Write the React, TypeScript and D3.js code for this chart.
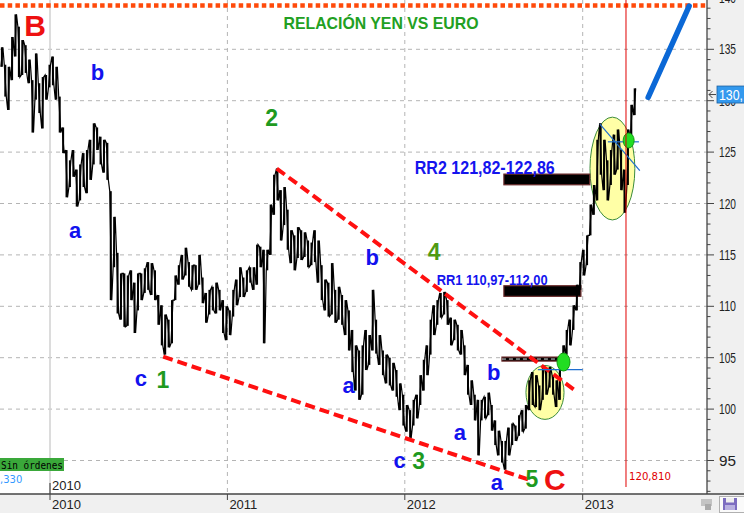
import { useMemo } from "react";
import * as d3 from "d3";

const WIDTH = 744;
const HEIGHT = 513;
const AXIS_X = 707; // right price axis
const AXIS_Y = 494; // bottom time axis

const NARROW = '"Liberation Sans Narrow", "Arial Narrow", "Liberation Sans", Arial, sans-serif';

// weekly high / low, first week starts 24 Sep 2009
const FIRST_WEEK = new Date(2009, 8, 24);
const weekHigh = [
  135.2, 133.5, 133.3, 136.2, 138.4, 137.2, 135.9, 135.4, 134.0, 132.0,
  134.6, 131.7, 132.3, 132.5, 133.5, 134.3, 133.3, 130.4, 127.4, 125.2,
  124.2, 125.2, 123.3, 123.8, 124.9, 125.2, 126.2, 127.8, 127.4, 126.5,
  126.2, 125.9, 121.2, 118.7, 115.2, 113.2, 113.2, 113.0, 113.5, 112.3,
  113.2, 113.2, 113.7, 114.3, 114.2, 113.5, 111.1, 110.1, 109.2, 108.7,
  110.6, 113.0, 114.0, 115.0, 115.7, 114.3, 114.0, 114.0, 115.0, 112.8,
  111.3, 111.6, 111.9, 112.3, 111.6, 110.6, 110.0, 109.6, 111.6, 112.6,
  113.8, 112.8, 113.5, 113.8, 113.8, 116.0, 115.8, 115.5, 115.5, 119.9,
  122.8, 123.4, 121.3, 121.6, 119.4, 117.4, 116.9, 117.7, 117.4, 117.2,
  116.4, 116.2, 117.4, 116.4, 114.0, 112.6, 112.3, 114.2, 111.6, 111.9,
  111.1, 110.6, 109.6, 107.7, 106.2, 105.7, 106.2, 107.7, 107.2, 111.6,
  108.7, 107.2, 105.7, 105.3, 105.0, 104.5, 103.8, 102.5, 101.4, 100.4,
  99.9, 100.9, 101.4, 103.3, 104.8, 106.2, 108.7, 110.1, 110.6, 111.3,
  111.4, 110.6, 108.9, 108.7, 108.2, 107.7, 106.2, 104.3, 102.8, 101.4,
  100.9, 100.9, 101.2, 101.6, 100.4, 98.9, 97.9, 96.9, 96.9, 98.2,
  98.6, 98.4, 99.4, 99.9, 100.4, 102.8, 103.6, 103.3, 102.3, 104.0,
  103.8, 104.1, 103.3, 102.8, 104.8, 106.2, 107.7, 108.7, 110.1, 112.1,
  114.3, 115.5, 116.9, 119.9, 121.8, 126.2, 127.8, 126.2, 124.2, 125.2,
  126.7, 127.2, 125.2, 123.3, 127.2, 129.6, 131.2,
];
const weekLow = [
  133.3, 130.4, 129.1, 132.0, 134.3, 132.3, 132.5, 132.7, 131.7, 126.9,
  130.1, 128.8, 127.3, 130.1, 131.3, 131.5, 130.1, 126.9, 124.9, 120.6,
  121.6, 122.6, 119.7, 120.3, 121.6, 121.0, 122.3, 123.8, 125.2, 123.8,
  123.0, 122.3, 110.6, 113.8, 109.3, 108.7, 108.0, 108.1, 110.6, 107.4,
  109.6, 110.6, 111.3, 111.6, 111.1, 110.6, 108.2, 106.2, 105.3, 106.0,
  106.4, 110.6, 112.1, 112.6, 113.0, 111.9, 111.6, 111.6, 112.1, 110.3,
  108.4, 109.2, 109.6, 109.3, 109.6, 107.4, 106.7, 107.2, 109.0, 110.1,
  110.9, 110.9, 111.4, 112.3, 111.6, 112.1, 113.8, 106.4, 113.5, 115.0,
  118.9, 120.3, 116.4, 117.9, 115.5, 114.2, 113.5, 114.7, 114.5, 114.8,
  113.8, 114.0, 114.3, 112.3, 110.6, 109.6, 109.0, 109.2, 108.4, 108.7,
  108.2, 107.2, 105.7, 103.6, 101.8, 100.9, 101.4, 103.8, 104.3, 105.7,
  105.4, 104.3, 103.3, 102.5, 102.3, 101.8, 101.2, 99.9, 98.4, 97.8,
  97.2, 98.4, 99.1, 100.4, 101.8, 103.3, 105.3, 107.2, 108.2, 108.9,
  109.2, 108.2, 106.2, 106.7, 105.7, 105.3, 103.3, 101.4, 100.4, 98.9,
  95.5, 98.9, 99.1, 99.4, 97.9, 96.5, 95.5, 94.8, 94.1, 95.5,
  96.5, 96.9, 97.4, 97.8, 98.1, 99.9, 100.4, 100.2, 99.9, 100.9,
  101.4, 102.1, 101.4, 100.2, 100.9, 103.8, 105.3, 106.2, 107.7, 109.6,
  111.6, 113.0, 114.0, 116.9, 118.9, 120.3, 122.8, 121.3, 120.3, 121.8,
  122.8, 123.3, 121.3, 119.1, 121.8, 126.2, 128.6,
];

const yearTicks = [2010, 2011, 2012, 2013];
const priceTicks = [95, 100, 105, 110, 115, 120, 125, 130, 135, 140];
const minorTicks = d3.range(91, 141).filter((v) => v % 5 !== 0);

const LAST_PRICE = 130.6;
const LAST_LABEL = "130,";
const MARKER_YEAR = 2013.244;
const MARKER_LABEL = "120,810";
const TOP_LEVEL = 139.25;

// resistance zones
const rrLabels = ["RR2 121,82-122,86", "RR1 110,97-112,00"];
const rrLow = [121.82, 110.97];
const rrHigh = [122.86, 112.0];
const rrFrom = [2012.557, 2012.557];
const rrTo = [2013.04, 2012.99];
const rrTextFrom = [2012.056, 2012.179];
const rrTextSize = [18, 14.5];
const rrTextWidth = [140, 111];

// wedge lines [year, price]
const wedgeUpper: [number, number][] = [[2011.278, 123.4], [2012.966, 101.7]];
const wedgeLower: [number, number][] = [[2010.638, 105.1], [2012.703, 93.1]];
const projection: [number, number][] = [[2013.369, 130.33], [2013.6, 139.2]];

// yellow zones: from, to, low, high
const zoneFrom = [2012.681, 2013.041];
const zoneTo = [2012.895, 2013.294];
const zoneLow = [99.0, 118.4];
const zoneHigh = [104.25, 128.4];

const dotYear = [2012.892, 2013.259];
const dotPrice = [104.58, 126.13];

const blueLines: [number, number][][] = [
  [[2012.748, 103.84], [2013.0, 103.84]],
  [[2013.142, 126.0], [2013.317, 126.0]],
  [[2013.097, 127.73], [2013.322, 123.2]],
];

const waveText = ["B", "b", "a", "2", "b", "4", "c", "1", "a", "c", "3", "a", "b", "a", "5", "C"];
const waveYear = [2009.916, 2010.267, 2010.141, 2011.25, 2011.816, 2012.165, 2010.512, 2010.636, 2011.684, 2011.971, 2012.078, 2012.309, 2012.5, 2012.517, 2012.714, 2012.844];
const wavePrice = [136.29, 132.0, 116.64, 127.54, 114.02, 114.5, 102.25, 102.06, 101.6, 94.3, 94.2, 97.0, 102.8, 92.1, 92.4, 92.1];

const fy = (t: number) => {
  const y = Math.floor(t);
  const a = new Date(y, 0, 1).getTime();
  const b = new Date(y + 1, 0, 1).getTime();
  return new Date(a + (t - y) * (b - a));
};

const waveStyle = (t: string) => {
  if (t === "B" || t === "C") return { fill: "#ee1111", size: 30 };
  if (/[0-9]/.test(t)) return { fill: t === "4" ? "#4f9a12" : "#1f9a1f", size: 23 };
  return { fill: "#1212ee", size: 22 };
};

export default function App() {
  const xScale = useMemo(
    () => d3.scaleTime().domain([new Date(2010, 0, 1), new Date(2013, 0, 1)]).range([50, 582.7]),
    []
  );
  const yScale = useMemo(() => d3.scaleLinear().domain([95, 135]).range([460.5, 49.3]), []);

  const X = (t: number) => xScale(fy(t));
  const line = d3
    .line<[number, number]>()
    .x((d) => X(d[0]))
    .y((d) => yScale(d[1]));

  // bars plus a trace joining them, entering each week at the extreme nearest the last one
  const weekX = weekHigh.map((_, i) => xScale(d3.timeWeek.offset(FIRST_WEEK, i)));
  const bars = weekHigh.map((hi, i) => {
    const y = yScale(hi);
    return <rect key={i} x={weekX[i] - 1} y={y} width={2} height={Math.max(1, yScale(weekLow[i]) - y)} fill="#000" />;
  });
  let trace = "";
  let prev = weekLow[0];
  weekHigh.forEach((hi, i) => {
    const lo = weekLow[i];
    const upFirst = Math.abs(prev - hi) < Math.abs(prev - lo);
    const a = upFirst ? hi : lo;
    const b = upFirst ? lo : hi;
    trace += `${i === 0 ? "M" : "L"}${weekX[i] - 1},${yScale(a)}L${weekX[i] + 1},${yScale(b)}`;
    prev = b;
  });

  return (
    <svg width={WIDTH} height={HEIGHT} style={{ position: "absolute", left: 0, top: 0, background: "#fff" }}>
      <defs>
        <clipPath id="plot">
          <rect x={0} y={0} width={AXIS_X} height={AXIS_Y} />
        </clipPath>
      </defs>

      {/* axis panels */}
      <rect x={AXIS_X} y={0} width={WIDTH - AXIS_X} height={HEIGHT} fill="#f0f0f0" />
      <rect x={0} y={AXIS_Y} width={WIDTH} height={HEIGHT - AXIS_Y} fill="#f0f0f0" />

      <g clipPath="url(#plot)">
        {/* grid */}
        {priceTicks.map((v) => (
          <line key={v} x1={0} x2={AXIS_X} y1={yScale(v)} y2={yScale(v)} stroke="#b4b4b4" strokeDasharray="4 4" />
        ))}
        {yearTicks.map((yr) => (
          <line
            key={yr}
            x1={xScale(new Date(yr, 0, 1))}
            x2={xScale(new Date(yr, 0, 1))}
            y1={0}
            y2={AXIS_Y}
            stroke={yr === 2010 ? "#d0d0d0" : "#b4b4b4"}
            strokeWidth={yr === 2010 ? 1.5 : 1}
            strokeDasharray={yr === 2010 ? undefined : "4 4"}
          />
        ))}

        {/* yellow zones */}
        {zoneFrom.map((f, i) => {
          const x0 = X(f);
          const x1 = X(zoneTo[i]);
          const y0 = yScale(zoneHigh[i]);
          const y1 = yScale(zoneLow[i]);
          return (
            <ellipse key={i} cx={(x0 + x1) / 2} cy={(y0 + y1) / 2} rx={(x1 - x0) / 2} ry={(y1 - y0) / 2}
              fill="#ffffa6" stroke="#3c8c3c" strokeWidth={1} />
          );
        })}

        {/* resistance bars */}
        {rrLow.map((lo, i) => (
          <rect key={i} x={X(rrFrom[i])} y={yScale(rrHigh[i])} width={X(rrTo[i]) - X(rrFrom[i])}
            height={yScale(lo) - yScale(rrHigh[i])} fill="#000" stroke="#6a2a2a" strokeWidth={1.2} />
        ))}
        <rect x={X(2012.546)} y={yScale(105.06)} width={X(2012.884) - X(2012.546)} height={yScale(104.67) - yScale(105.06)}
          fill="#000" stroke="#6a2a2a" strokeWidth={1.2} />
        <line x1={X(2012.546)} x2={X(2012.884)} y1={yScale(104.87)} y2={yScale(104.87)} stroke="#ddd" strokeDasharray="4 3" />

        {/* price */}
        <path d={trace} stroke="#000" strokeWidth={1.2} fill="none" />
        {bars}

        {/* top level */}
        <line x1={0} x2={AXIS_X} y1={yScale(TOP_LEVEL)} y2={yScale(TOP_LEVEL)} stroke="#ff4a0a" strokeWidth={4.5} strokeDasharray="4.5 3.2" />

        {/* wedge */}
        <path d={line(wedgeUpper) ?? ""} stroke="#ff1010" strokeWidth={4} strokeDasharray="10 5" fill="none" />
        <path d={line(wedgeLower) ?? ""} stroke="#ff1010" strokeWidth={4} strokeDasharray="10 5" fill="none" />

        {/* blue helper lines */}
        {blueLines.map((l, i) => (
          <path key={i} d={line(l) ?? ""} stroke="#1f6fd0" strokeWidth={1.2} fill="none" />
        ))}

        {/* green dots */}
        {dotYear.map((t, i) => (
          <ellipse key={i} cx={X(t)} cy={yScale(dotPrice[i])} rx={i === 0 ? 6.5 : 5.5} ry={i === 0 ? 9 : 7.5}
            fill="#22dd22" stroke="#139a13" strokeWidth={1} />
        ))}

        {/* projection */}
        <path d={line(projection) ?? ""} stroke="#0b68d6" strokeWidth={5.5} strokeLinecap="round" fill="none" />

        {/* marker */}
        <line x1={X(MARKER_YEAR)} x2={X(MARKER_YEAR)} y1={0} y2={487} stroke="#e00000" strokeWidth={1} />
        <text x={X(MARKER_YEAR) + 3} y={480} fontFamily="DejaVu Sans, sans-serif" fontSize={10.5} fill="#e00000"
          textLength={42} lengthAdjust="spacingAndGlyphs">
          {MARKER_LABEL}
        </text>

        {/* texts */}
        <text x={381} y={29} textAnchor="middle" fontFamily={NARROW} fontWeight="bold" fontSize={17} fill="#22a022"
          textLength={195} lengthAdjust="spacingAndGlyphs">
          RELACIÓN YEN VS EURO
        </text>
        {rrLabels.map((s, i) => (
          <text key={s} x={X(rrTextFrom[i])} y={yScale(rrHigh[i]) - 0.5} fontFamily={NARROW} fontWeight="bold"
            fontSize={rrTextSize[i]} fill="#1414ee" textLength={rrTextWidth[i]} lengthAdjust="spacingAndGlyphs">
            {s}
          </text>
        ))}
        {waveText.map((t, i) => {
          const st = waveStyle(t);
          return (
            <text key={i} x={X(waveYear[i])} y={yScale(wavePrice[i])} textAnchor="middle" fontFamily={NARROW}
              fontWeight="bold" fontSize={st.size} fill={st.fill}>
              {t}
            </text>
          );
        })}

        {/* inner year label */}
        <line x1={50} x2={50} y1={483} y2={AXIS_Y} stroke="#333" />
        <text x={52} y={490} fontFamily={NARROW} fontSize={13} fill="#222">2010</text>

        {/* orders box */}
        <rect x={0} y={458} width={64} height={13} fill="#3aa83a" />
        <text x={1} y={468.5} fontFamily="DejaVu Sans Mono, monospace" fontSize={10.5} fill="#000"
          textLength={62} lengthAdjust="spacingAndGlyphs">Sin órdenes</text>
        <text x={0} y={483} fontFamily="DejaVu Sans, sans-serif" fontSize={10} fill="#3399ff">,330</text>
      </g>

      {/* right axis */}
      <line x1={AXIS_X} x2={AXIS_X} y1={0} y2={AXIS_Y} stroke="#444" strokeWidth={1.3} />
      {minorTicks.map((v) => (
        <line key={v} x1={AXIS_X} x2={AXIS_X + 3.5} y1={yScale(v)} y2={yScale(v)} stroke="#444" />
      ))}
      {priceTicks.map((v) => (
        <g key={v}>
          <line x1={AXIS_X} x2={AXIS_X + 7} y1={yScale(v)} y2={yScale(v)} stroke="#444" />
          <text x={719} y={yScale(v) + 5} fontFamily={NARROW} fontSize={14} fill="#222"
            textLength={17} lengthAdjust="spacingAndGlyphs">{v}</text>
        </g>
      ))}
      <path d={`M716,${yScale(LAST_PRICE)} H709 M712.5,${yScale(LAST_PRICE) - 3.5} L709,${yScale(LAST_PRICE)} L712.5,${yScale(LAST_PRICE) + 3.5}`}
        stroke="#444" fill="none" />
      <rect x={717} y={yScale(LAST_PRICE) - 8.5} width={28} height={17} fill="#3399ee" stroke="#1b5fa0" strokeWidth={0.8} />
      <text x={719} y={yScale(LAST_PRICE) + 5.5} fontFamily={NARROW} fontSize={15} fill="#fff"
        textLength={24} lengthAdjust="spacingAndGlyphs">{LAST_LABEL}</text>

      {/* bottom axis */}
      <line x1={0} x2={WIDTH} y1={AXIS_Y} y2={AXIS_Y} stroke="#444" strokeWidth={1.5} />
      {yearTicks.map((yr) => (
        <g key={yr}>
          <line x1={xScale(new Date(yr, 0, 1))} x2={xScale(new Date(yr, 0, 1))} y1={AXIS_Y} y2={AXIS_Y + 6} stroke="#444" />
          <text x={xScale(new Date(yr, 0, 1)) + 2} y={509} fontFamily={NARROW} fontSize={13} fill="#222">{yr}</text>
        </g>
      ))}

      {/* toolbar icons */}
      <g>
        <rect x={701} y={499} width={11} height={7} fill="#c4c4c4" />
        <rect x={705} y={504} width={6} height={6} fill="#aaa" />
        <rect x={719.5} y={496.5} width={25} height={16} fill="#fafafa" stroke="#b0b0b0" />
        <rect x={723} y={498} width={14} height={12} fill="#7c6cc0" />
        <rect x={726} y={498} width={8} height={4.5} fill="#eee" />
        <rect x={725} y={505} width={10} height={5} fill="#b8b0e0" />
      </g>
    </svg>
  );
}
